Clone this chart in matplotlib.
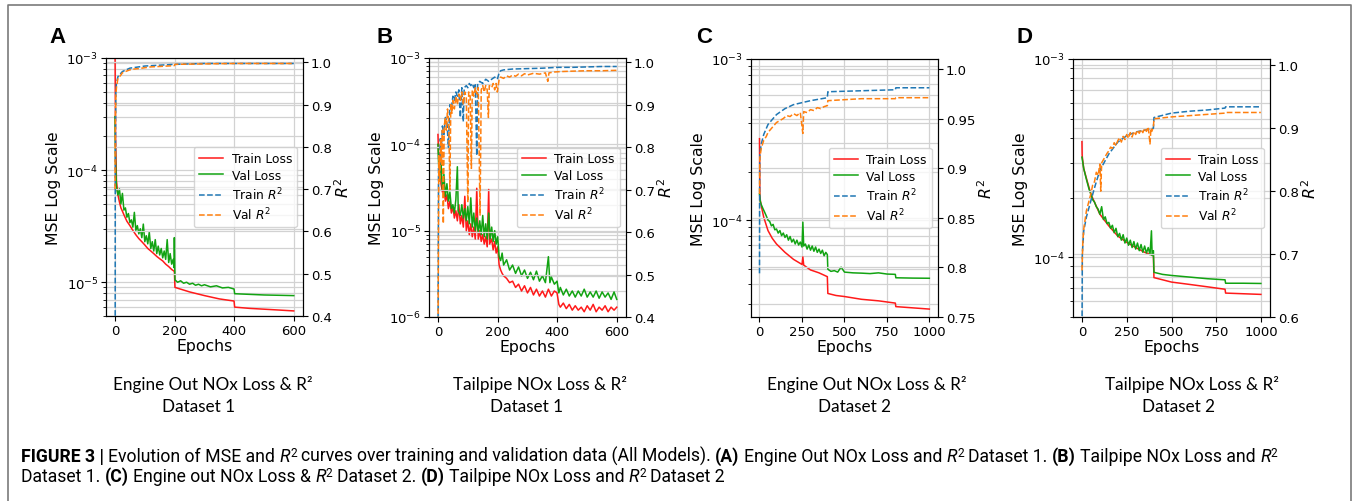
import matplotlib
matplotlib.use("Agg")
import matplotlib.pyplot as plt
from matplotlib.lines import Line2D

W_PX, H_PX, DPI = 1356, 502, 100

# ---------------- Panel A: Engine Out NOx, dataset 1 ----------------
a_train_loss_ep = [0, 2, 5, 10, 15, 20, 25, 30, 40, 50, 60, 70, 80, 90, 100, 110, 120, 130, 140,
                   150, 160, 170, 180, 190, 199, 201, 250, 300, 350, 399, 401, 450, 500, 550, 599]
a_train_loss = [1.5e-3, 2.0e-4, 8.0e-5, 6.0e-5, 5.2e-5, 4.6e-5, 4.3e-5, 4.0e-5, 3.5e-5, 3.2e-5,
                2.9e-5, 2.65e-5, 2.45e-5, 2.3e-5, 2.15e-5, 2.0e-5, 1.9e-5, 1.8e-5, 1.7e-5,
                1.62e-5, 1.55e-5, 1.45e-5, 1.38e-5, 1.3e-5, 1.25e-5, 9.0e-6, 8.2e-6, 7.6e-6,
                7.1e-6, 6.8e-6, 6.0e-6, 5.85e-6, 5.75e-6, 5.65e-6, 5.55e-6]
a_val_loss_ep = [0, 2, 5, 10, 15, 20, 25, 30, 35, 40, 45, 50, 55, 60, 65, 70, 75, 80, 85, 90, 95,
                 100, 105, 110, 115, 120, 125, 130, 135, 140, 145, 150, 155, 160, 165, 170, 175,
                 180, 185, 190, 195, 198, 199, 201, 210, 220, 230, 240, 250, 260, 270, 280, 290,
                 300, 320, 340, 360, 380, 399, 401, 450, 500, 550, 599]
a_val_loss = [3.0e-4, 1.2e-4, 7.0e-5, 6.0e-5, 6.8e-5, 5.0e-5, 6.2e-5, 4.4e-5, 4.6e-5, 3.8e-5,
              4.1e-5, 3.4e-5, 3.6e-5, 3.1e-5, 4.2e-5, 2.9e-5, 3.2e-5, 2.7e-5, 3.0e-5, 2.5e-5,
              3.3e-5, 2.3e-5, 2.6e-5, 2.2e-5, 2.8e-5, 2.0e-5, 2.3e-5, 1.9e-5, 2.4e-5, 1.8e-5,
              2.1e-5, 1.75e-5, 2.0e-5, 1.65e-5, 1.9e-5, 1.6e-5, 2.4e-5, 1.5e-5, 1.8e-5, 1.45e-5,
              1.6e-5, 1.35e-5, 2.5e-5, 1.05e-5, 1.0e-5, 1.03e-5, 9.8e-6, 1.0e-5, 9.6e-6, 9.8e-6,
              9.4e-6, 9.6e-6, 9.3e-6, 9.5e-6, 9.1e-6, 9.3e-6, 8.9e-6, 9.0e-6, 8.7e-6, 7.9e-6,
              7.8e-6, 7.7e-6, 7.65e-6, 7.6e-6]
a_train_r2_ep = [0, 1, 3, 5, 10, 25, 50, 100, 150, 200, 300, 400, 599]
a_train_r2 = [-1.0, 0.75, 0.93, 0.95, 0.966, 0.978, 0.986, 0.991, 0.993, 0.995, 0.997, 0.997, 0.997]
a_val_r2_ep = [0, 1, 3, 5, 10, 18, 25, 35, 50, 65, 80, 100, 120, 150, 175, 199, 201, 300, 400, 599]
a_val_r2 = [0.70, 0.85, 0.92, 0.94, 0.962, 0.968, 0.975, 0.978, 0.982, 0.984, 0.985, 0.987, 0.989,
            0.99, 0.991, 0.992, 0.995, 0.996, 0.997, 0.997]

# ---------------- Panel B: Tailpipe NOx, dataset 1 ----------------
b_train_loss_ep = [0, 3, 5, 8, 10, 15, 20, 25, 30, 35, 40, 45, 50, 55, 60, 65, 70, 75, 80, 85, 90,
                   95, 100, 105, 110, 115, 120, 125, 130, 135, 140, 145, 150, 155, 160, 165, 170,
                   173, 180, 185, 190, 195, 200, 205, 210, 215, 220, 230, 240, 250, 260, 270, 280,
                   290, 300, 310, 320, 330, 340, 350, 360, 370, 380, 390, 399, 405, 410, 420, 430,
                   440, 450, 460, 470, 480, 490, 500, 510, 520, 530, 540, 550, 560, 570, 580, 590, 599]
b_train_loss = [1.3e-4, 6e-5, 4.5e-5, 8e-5, 3.5e-5, 2.8e-5, 3.0e-5, 2.2e-5, 2.6e-5, 1.8e-5, 2.2e-5,
                1.6e-5, 1.9e-5, 1.4e-5, 1.7e-5, 1.3e-5, 2.0e-5, 1.2e-5, 1.5e-5, 1.1e-5, 2.5e-5,
                1.0e-5, 1.3e-5, 9e-6, 1.2e-5, 8.5e-6, 1.1e-5, 8e-6, 3.1e-5, 8e-6, 1.0e-5, 7.5e-6,
                9e-6, 7e-6, 8.5e-6, 6.5e-6, 3.0e-5, 7e-6, 8e-6, 6e-6, 7.5e-6, 5.5e-6, 6.5e-6,
                4.0e-6, 3.5e-6, 3.2e-6, 3.0e-6, 2.8e-6, 2.5e-6, 2.6e-6, 2.2e-6, 2.4e-6, 2.0e-6,
                2.3e-6, 1.9e-6, 2.2e-6, 1.8e-6, 2.1e-6, 1.75e-6, 2.0e-6, 1.7e-6, 2.1e-6, 1.75e-6,
                2.0e-6, 1.9e-6, 1.4e-6, 1.3e-6, 1.45e-6, 1.25e-6, 1.4e-6, 1.2e-6, 1.35e-6, 1.2e-6,
                1.3e-6, 1.15e-6, 1.35e-6, 1.2e-6, 1.4e-6, 1.15e-6, 1.3e-6, 1.2e-6, 1.35e-6,
                1.15e-6, 1.3e-6, 1.2e-6, 1.3e-6]
b_val_loss_ep = [0, 3, 5, 8, 10, 15, 20, 25, 30, 35, 40, 45, 50, 55, 60, 65, 68, 75, 80, 85, 90, 95,
                 100, 105, 110, 115, 120, 125, 130, 135, 140, 145, 150, 155, 160, 165, 170, 175,
                 180, 185, 190, 195, 200, 205, 210, 215, 220, 230, 240, 250, 260, 270, 280, 290,
                 300, 310, 320, 330, 340, 350, 360, 370, 375, 380, 390, 399, 405, 410, 420, 430,
                 440, 450, 460, 470, 480, 490, 500, 510, 520, 530, 540, 550, 560, 570, 580, 590, 599]
b_val_loss = [1.0e-4, 5e-5, 7e-5, 4e-5, 6.5e-5, 3.0e-5, 4.5e-5, 2.5e-5, 3.5e-5, 2.2e-5, 2.8e-5,
              1.8e-5, 2.0e-5, 1.6e-5, 2.3e-5, 5.5e-5, 1.7e-5, 1.5e-5, 2.0e-5, 1.4e-5, 1.8e-5,
              1.3e-5, 1.9e-5, 1.2e-5, 2.4e-5, 1.1e-5, 1.6e-5, 1.0e-5, 1.4e-5, 9.5e-6, 1.3e-5,
              9e-6, 1.5e-5, 8.5e-6, 1.2e-5, 8e-6, 1.6e-5, 8e-6, 1.1e-5, 7.5e-6, 1.0e-5, 7e-6,
              8.5e-6, 5.0e-6, 4.5e-6, 5.5e-6, 4.0e-6, 4.6e-6, 3.5e-6, 4.0e-6, 3.2e-6, 3.8e-6,
              3.0e-6, 3.5e-6, 2.8e-6, 3.3e-6, 2.7e-6, 3.4e-6, 2.6e-6, 3.0e-6, 2.5e-6, 5.0e-6,
              2.5e-6, 2.9e-6, 2.4e-6, 2.6e-6, 1.9e-6, 2.2e-6, 1.8e-6, 2.1e-6, 1.75e-6, 2.0e-6,
              1.7e-6, 2.0e-6, 1.75e-6, 2.1e-6, 1.7e-6, 1.95e-6, 1.7e-6, 2.0e-6, 1.65e-6, 1.95e-6,
              1.7e-6, 1.9e-6, 1.6e-6, 1.95e-6, 1.6e-6]
b_train_r2_ep = [0, 2, 5, 8, 10, 15, 20, 25, 30, 35, 40, 45, 50, 55, 60, 65, 70, 75, 80, 85, 88, 95,
                 100, 105, 110, 115, 120, 125, 130, 133, 140, 150, 160, 170, 180, 190, 199, 205,
                 210, 220, 250, 300, 350, 400, 450, 500, 550, 599]
b_train_r2 = [0.30, 0.75, 0.72, 0.82, 0.78, 0.85, 0.83, 0.87, 0.86, 0.80, 0.90, 0.89, 0.92, 0.91,
              0.93, 0.92, 0.935, 0.87, 0.94, 0.86, 0.94, 0.945, 0.94, 0.95, 0.945, 0.95, 0.94,
              0.95, 0.78, 0.95, 0.955, 0.95, 0.96, 0.955, 0.96, 0.965, 0.96, 0.975, 0.98, 0.982,
              0.984, 0.985, 0.986, 0.988, 0.988, 0.989, 0.99, 0.99]
b_val_r2_ep = [0, 3, 6, 9, 12, 15, 18, 21, 25, 28, 32, 36, 40, 43, 47, 50, 55, 60, 65, 70, 75, 80,
               85, 90, 95, 100, 103, 108, 112, 115, 120, 125, 130, 135, 141, 145, 150, 155, 160,
               165, 169, 172, 180, 185, 190, 195, 199, 205, 210, 220, 230, 240, 250, 260, 270,
               280, 290, 300, 320, 340, 360, 368, 372, 390, 410, 450, 500, 550, 599]
b_val_r2 = [0.35, 0.78, 0.72, 0.82, 0.76, 0.84, 0.62, 0.85, 0.87, 0.84, 0.89, 0.86, 0.70, 0.90,
            0.88, 0.91, 0.89, 0.92, 0.90, 0.925, 0.91, 0.93, 0.90, 0.93, 0.915, 0.67, 0.93, 0.92,
            0.75, 0.935, 0.92, 0.94, 0.925, 0.94, 0.64, 0.935, 0.945, 0.93, 0.945, 0.935, 0.87,
            0.945, 0.94, 0.95, 0.935, 0.95, 0.93, 0.96, 0.965, 0.962, 0.968, 0.965, 0.97, 0.967,
            0.972, 0.968, 0.973, 0.97, 0.974, 0.972, 0.975, 0.955, 0.975, 0.977, 0.978, 0.979,
            0.98, 0.98, 0.981]

# ---------------- Panel C: Engine Out NOx, dataset 2 ----------------
c_train_loss_ep = [0, 2, 5, 10, 25, 50, 75, 100, 150, 200, 250, 255, 260, 300, 350, 399, 402, 450,
                   500, 600, 700, 799, 802, 900, 999]
c_train_loss = [3.2e-4, 1.45e-4, 1.32e-4, 1.23e-4, 1.04e-4, 8.6e-5, 7.7e-5, 7.1e-5, 6.3e-5,
                5.7e-5, 5.3e-5, 5.9e-5, 5.25e-5, 4.9e-5, 4.7e-5, 4.45e-5, 3.5e-5, 3.4e-5,
                3.35e-5, 3.22e-5, 3.15e-5, 3.05e-5, 2.9e-5, 2.85e-5, 2.8e-5]
c_val_loss_ep = [0, 5, 10, 20, 30, 40, 50, 60, 70, 80, 90, 100, 110, 120, 130, 140, 150, 160, 170,
                 180, 190, 200, 210, 220, 230, 240, 250, 255, 260, 270, 280, 290, 300, 310, 320,
                 330, 340, 350, 360, 370, 380, 390, 399, 402, 420, 440, 460, 480, 500, 550, 600,
                 650, 700, 750, 799, 802, 900, 999]
c_val_loss = [1.45e-4, 1.3e-4, 1.25e-4, 1.18e-4, 1.12e-4, 1.06e-4, 1.0e-4, 9.8e-5, 9.2e-5,
              9.4e-5, 8.7e-5, 8.8e-5, 8.3e-5, 8.6e-5, 8.0e-5, 8.3e-5, 7.8e-5, 8.1e-5, 7.5e-5,
              7.9e-5, 7.3e-5, 7.6e-5, 7.1e-5, 7.5e-5, 7.0e-5, 7.3e-5, 6.8e-5, 9.7e-5, 6.9e-5,
              7.1e-5, 6.6e-5, 7.0e-5, 6.5e-5, 6.9e-5, 6.4e-5, 6.8e-5, 6.3e-5, 6.6e-5, 6.2e-5,
              6.5e-5, 6.0e-5, 6.3e-5, 6.1e-5, 4.95e-5, 4.8e-5, 4.85e-5, 4.75e-5, 5.1e-5, 4.75e-5,
              4.7e-5, 4.68e-5, 4.65e-5, 4.7e-5, 4.62e-5, 4.6e-5, 4.38e-5, 4.36e-5, 4.35e-5]
c_train_r2_ep = [0, 1, 2, 10, 25, 50, 100, 150, 200, 300, 399, 402, 600, 799, 802, 999]
c_train_r2 = [0.794, 0.90, 0.914, 0.924, 0.934, 0.944, 0.954, 0.960, 0.964, 0.968, 0.971, 0.977,
              0.978, 0.979, 0.981, 0.981]
c_val_r2_ep = [0, 2, 10, 25, 40, 50, 60, 70, 80, 90, 100, 120, 140, 160, 180, 200, 220, 240, 255,
               260, 280, 300, 320, 340, 360, 380, 399, 402, 500, 600, 700, 799, 802, 999]
c_val_r2 = [0.874, 0.91, 0.92, 0.928, 0.932, 0.936, 0.938, 0.94, 0.942, 0.944, 0.946, 0.948, 0.95,
            0.953, 0.952, 0.955, 0.953, 0.956, 0.935, 0.957, 0.956, 0.959, 0.958, 0.961, 0.96,
            0.962, 0.963, 0.968, 0.969, 0.97, 0.97, 0.97, 0.971, 0.971]

# ---------------- Panel D: Tailpipe NOx, dataset 2 ----------------
d_train_loss_ep = [0, 1, 2, 10, 25, 50, 100, 150, 200, 250, 300, 350, 399, 402, 500, 600, 700, 799,
                   802, 900, 999]
d_train_loss = [3.83e-4, 3.3e-4, 3.2e-4, 2.8e-4, 2.5e-4, 2.08e-4, 1.65e-4, 1.44e-4, 1.28e-4,
                1.19e-4, 1.12e-4, 1.06e-4, 1.02e-4, 7.9e-5, 7.5e-5, 7.3e-5, 7.1e-5, 6.9e-5,
                6.6e-5, 6.55e-5, 6.5e-5]
d_val_loss_ep = [0, 10, 25, 40, 50, 60, 70, 80, 90, 100, 110, 120, 130, 140, 150, 160, 170, 180,
                 190, 200, 210, 220, 230, 240, 250, 260, 270, 280, 290, 300, 310, 320, 330, 340,
                 350, 360, 370, 380, 388, 392, 399, 402, 450, 500, 600, 700, 799, 802, 900, 999]
d_val_loss = [3.2e-4, 2.8e-4, 2.47e-4, 2.2e-4, 2.08e-4, 1.95e-4, 1.9e-4, 1.8e-4, 1.75e-4, 1.65e-4,
              1.8e-4, 1.55e-4, 1.6e-4, 1.48e-4, 1.5e-4, 1.4e-4, 1.45e-4, 1.33e-4, 1.4e-4,
              1.27e-4, 1.32e-4, 1.22e-4, 1.3e-4, 1.18e-4, 1.25e-4, 1.15e-4, 1.22e-4, 1.12e-4,
              1.2e-4, 1.1e-4, 1.18e-4, 1.08e-4, 1.16e-4, 1.06e-4, 1.14e-4, 1.05e-4, 1.12e-4,
              1.03e-4, 1.36e-4, 1.02e-4, 1.08e-4, 8.4e-5, 8.2e-5, 8.1e-5, 7.95e-5, 7.8e-5, 7.7e-5,
              7.4e-5, 7.4e-5, 7.38e-5]
d_train_r2_ep = [0, 2, 10, 25, 50, 75, 100, 150, 200, 250, 300, 350, 399, 402, 500, 600, 700, 799,
                 802, 999]
d_train_r2 = [0.55, 0.70, 0.737, 0.759, 0.785, 0.81, 0.833, 0.859, 0.878, 0.888, 0.894, 0.897,
              0.900, 0.917, 0.924, 0.927, 0.929, 0.932, 0.934, 0.934]
d_val_r2_ep = [0, 5, 10, 25, 40, 50, 60, 70, 80, 90, 100, 105, 110, 120, 130, 140, 150, 160, 170,
               180, 190, 200, 210, 220, 230, 240, 250, 260, 270, 280, 290, 300, 310, 320, 330,
               340, 350, 360, 370, 380, 385, 390, 399, 402, 500, 600, 700, 799, 802, 999]
d_val_r2 = [0.674, 0.72, 0.74, 0.769, 0.785, 0.796, 0.81, 0.815, 0.83, 0.825, 0.843, 0.80, 0.845,
            0.85, 0.855, 0.86, 0.864, 0.87, 0.868, 0.877, 0.872, 0.88, 0.885, 0.878, 0.887, 0.882,
            0.89, 0.884, 0.893, 0.886, 0.895, 0.89, 0.897, 0.892, 0.898, 0.893, 0.9, 0.895, 0.902,
            0.875, 0.9, 0.895, 0.902, 0.915, 0.918, 0.92, 0.922, 0.924, 0.925, 0.925]

# axis limits / ticks per panel
letters = ["A", "B", "C", "D"]
subtitle_1 = ["Engine Out NOx Loss & R²", "Tailpipe NOx Loss & R²",
              "Engine Out NOx Loss & R²", "Tailpipe NOx Loss & R²"]
subtitle_2 = ["Dataset 1", "Dataset 1", "Dataset 2", "Dataset 2"]
loss_ylims = [(5e-6, 1e-3), (1e-6, 1e-3), (2.5e-5, 1e-3), (5e-5, 1e-3)]
r2_ylims = [(0.4, 1.01), (0.4, 1.01), (0.75, 1.01), (0.6, 1.01)]
r2_ticks = [["0.4", "0.5", "0.6", "0.7", "0.8", "0.9", "1.0"],
            ["0.4", "0.5", "0.6", "0.7", "0.8", "0.9", "1.0"],
            ["0.75", "0.8", "0.85", "0.9", "0.95", "1.0"],
            ["0.6", "0.7", "0.8", "0.9", "1.0"]]
epoch_ticks = [[0, 200, 400, 600], [0, 200, 400, 600],
               [0, 250, 500, 750, 1000], [0, 250, 500, 750, 1000]]

series = [
    (a_train_loss_ep, a_train_loss, a_val_loss_ep, a_val_loss,
     a_train_r2_ep, a_train_r2, a_val_r2_ep, a_val_r2),
    (b_train_loss_ep, b_train_loss, b_val_loss_ep, b_val_loss,
     b_train_r2_ep, b_train_r2, b_val_r2_ep, b_val_r2),
    (c_train_loss_ep, c_train_loss, c_val_loss_ep, c_val_loss,
     c_train_r2_ep, c_train_r2, c_val_r2_ep, c_val_r2),
    (d_train_loss_ep, d_train_loss, d_val_loss_ep, d_val_loss,
     d_train_r2_ep, d_train_r2, d_val_r2_ep, d_val_r2),
]

# layout in pixels: (left, top, right, bottom) of each plot box
boxes = [(106, 59, 303, 317), (429, 59, 626, 318), (751, 60, 938, 318), (1073, 60, 1270, 318)]
letter_x = [49, 376, 696, 1016]
sub1_x = [213, 540, 867, 1192]
sub2_x = [199, 527, 854, 1178]

RED, GREEN, BLUE, ORANGE = "#ff1a1a", "#12a312", "#1f77b4", "#ff7f0e"
GRID = "#d2d2d2"


def fx(px):
    return px / W_PX


def fy(py):
    return 1 - py / H_PX


fig = plt.figure(figsize=(W_PX / DPI, H_PX / DPI), dpi=DPI)

for i in range(4):
    l, t, r, b = boxes[i]
    ax = fig.add_axes([fx(l), fy(b), (r - l) / W_PX, (b - t) / H_PX])
    tl_x, tl_y, vl_x, vl_y, tr_x, tr_y, vr_x, vr_y = series[i]
    h1, = ax.plot(tl_x, tl_y, color=RED, lw=1.1, label="Train Loss")
    h2, = ax.plot(vl_x, vl_y, color=GREEN, lw=1.1, label="Val Loss")
    ax.set_yscale("log")
    ax.set_ylim(*loss_ylims[i])
    xmax = epoch_ticks[i][-1]
    ax.set_xlim(-0.05 * xmax, 1.05 * xmax)
    ax.set_xticks(epoch_ticks[i])
    ax.grid(True, which="both", axis="y", color=GRID, lw=0.9)
    ax.grid(True, which="major", axis="x", color=GRID, lw=0.9)
    ax.tick_params(labelsize=9.5, pad=2)
    ax.set_xlabel("Epochs", fontsize=11.3, labelpad=1)
    ax.set_ylabel("MSE Log Scale", fontsize=11.3, labelpad=4)

    ax2 = ax.twinx()
    h3, = ax2.plot(tr_x, tr_y, color=BLUE, lw=1.1, ls="--", label="Train $R^2$")
    h4, = ax2.plot(vr_x, vr_y, color=ORANGE, lw=1.1, ls="--", label="Val $R^2$")
    ax2.set_ylim(*r2_ylims[i])
    ax2.set_yticks([float(s) for s in r2_ticks[i]])
    ax2.set_yticklabels(r2_ticks[i])
    ax2.grid(True, color=GRID, lw=0.9)
    ax2.tick_params(labelsize=9.5, pad=2)
    ax2.set_ylabel("$R^2$", fontsize=11.3, labelpad=1)
    ax2.legend(handles=[h1, h2, h3, h4], loc="center right", fontsize=8.8,
               labelspacing=0.3, handletextpad=0.7, framealpha=0.8, edgecolor="#cccccc",
               borderaxespad=0.5)

    fig.text(fx(letter_x[i]), fy(43), letters[i], fontsize=16, fontweight="bold",
             family="Liberation Sans", ha="left", va="baseline")
    fig.text(fx(sub1_x[i]), fy(390), subtitle_1[i], fontsize=12.3, family="Lato",
             ha="center", va="baseline")
    fig.text(fx(sub2_x[i]), fy(412), subtitle_2[i], fontsize=12.3, family="Lato",
             ha="center", va="baseline")

# frame around the figure
frame = Line2D([fx(8), fx(8), fx(1351), fx(1351)], [fy(510), fy(6), fy(6), fy(510)],
               transform=fig.transFigure, color="#7a7a7a", lw=1.2)
fig.add_artist(frame)

# caption built from runs of bold / regular / italic / superscript text
CAP_FONT = "Roboto"
caption_1 = [("FIGURE 3 |", "b"), (" Evolution of MSE and", "r"), (" R", "i"), ("2", "s"),
             (" curves over training and validation data (All Models).", "r"), (" (A)", "b"),
             (" Engine Out NOx Loss and", "r"), (" R", "i"), ("2", "s"), (" Dataset 1.", "r"),
             (" (B)", "b"), (" Tailpipe NOx Loss and", "r"), (" R", "i"), ("2", "s")]
caption_2 = [("Dataset 1.", "r"), (" (C)", "b"), (" Engine out NOx Loss &", "r"), (" R", "i"),
             ("2", "s"), (" Dataset 2.", "r"), (" (D)", "b"), (" Tailpipe NOx Loss and", "r"),
             (" R", "i"), ("2", "s"), (" Dataset 2", "r")]

renderer = fig.canvas.get_renderer()


def put_runs(x_px, y_px, runs, size):
    probe = fig.text(0, 0, "n n", fontsize=size, family=CAP_FONT)
    w_with = probe.get_window_extent(renderer).width
    probe.set_text("nn")
    space_w = w_with - probe.get_window_extent(renderer).width
    probe.remove()
    x = x_px
    made = []
    for text, kind in runs:
        stripped = text.lstrip(" ")
        x += space_w * (len(text) - len(stripped))
        fs = size * 0.68 if kind == "s" else size
        rise = 5 if kind == "s" else 0
        t = fig.text(fx(x), fy(y_px - rise), stripped, fontsize=fs, family=CAP_FONT,
                     fontweight="bold" if kind == "b" else "normal",
                     fontstyle="italic" if kind == "i" else "normal",
                     ha="left", va="baseline")
        made.append(t)
        x += t.get_window_extent(renderer).width
    return made, x


# fit the first caption line to the width it spans in the figure
size = 11.7
made, end = put_runs(21, 462, caption_1, size)
for t in made:
    t.remove()
size = size * (1280 - 21) / (end - 21)
put_runs(21, 462, caption_1, size)
put_runs(21, 482, caption_2, size)

fig.savefig("out.png", dpi=DPI)
